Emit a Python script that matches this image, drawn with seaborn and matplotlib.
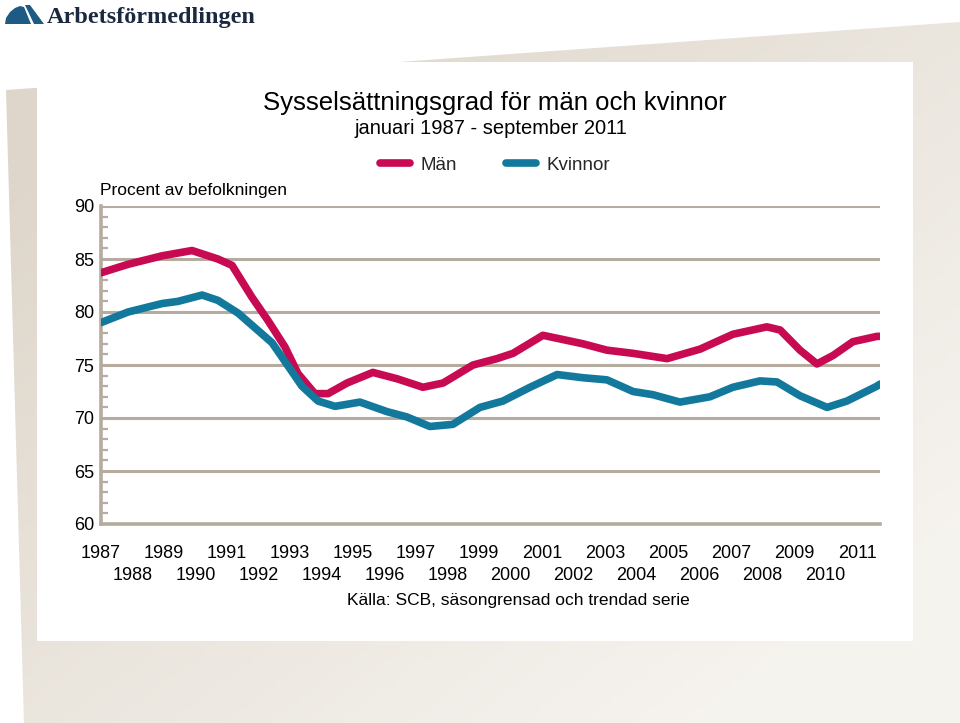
import numpy as np
import pandas as pd
import matplotlib
matplotlib.use("Agg")
import matplotlib.pyplot as plt
import seaborn as sns
from matplotlib.patches import Polygon, Rectangle

# sysselsättningsgrad, procent av befolkningen
tid_man = [1987.00, 1987.86, 1988.94, 1989.89, 1990.71, 1991.16, 1991.79, 1992.30,
           1992.84, 1993.25, 1993.79, 1994.21, 1994.81, 1995.63, 1996.40, 1997.22,
           1997.86, 1998.81, 1999.57, 2000.08, 2001.03, 2001.67, 2002.30, 2003.06,
           2003.89, 2004.97, 2006.02, 2007.06, 2008.14, 2008.56, 2009.19, 2009.73,
           2010.24, 2010.87, 2011.63, 2011.73]
man = [83.7, 84.5, 85.3, 85.8, 85.0, 84.4, 81.4, 79.2,
       76.7, 74.2, 72.3, 72.3, 73.3, 74.3, 73.7, 72.9,
       73.3, 75.0, 75.6, 76.1, 77.8, 77.4, 77.0, 76.4,
       76.1, 75.6, 76.5, 77.9, 78.6, 78.3, 76.4, 75.1,
       75.9, 77.2, 77.7, 77.7]

tid_kvinnor = [1987.00, 1987.86, 1988.94, 1989.44, 1990.21, 1990.71, 1991.35, 1991.89,
               1992.43, 1992.94, 1993.38, 1993.89, 1994.43, 1995.22, 1996.08, 1996.71,
               1997.44, 1998.17, 1999.03, 1999.76, 2000.62, 2001.48, 2002.30, 2003.06,
               2003.89, 2004.52, 2005.38, 2006.33, 2007.06, 2007.92, 2008.46, 2009.19,
               2010.05, 2010.68, 2011.63, 2011.73]
kvinnor = [79.0, 80.0, 80.8, 81.0, 81.6, 81.1, 79.9, 78.5,
           77.1, 74.9, 73.0, 71.6, 71.1, 71.5, 70.6, 70.1,
           69.2, 69.4, 71.0, 71.6, 72.9, 74.1, 73.8, 73.6,
           72.5, 72.2, 71.5, 72.0, 72.9, 73.5, 73.4, 72.1,
           71.0, 71.6, 73.0, 73.2]

udda_ar = list(range(1987, 2012, 2))
jamna_ar = list(range(1988, 2011, 2))
y_ticks = [60, 65, 70, 75, 80, 85, 90]

df = pd.concat([
    pd.DataFrame({"tid": tid_man, "varde": man, "serie": "Män"}),
    pd.DataFrame({"tid": tid_kvinnor, "varde": kvinnor, "serie": "Kvinnor"}),
])

sns.set_theme(style="white")
plt.rcParams["font.family"] = ["Liberation Sans", "DejaVu Sans"]

W, H = 960, 723
fig = plt.figure(figsize=(9.6, 7.23), dpi=100)
fig.patch.set_facecolor("white")

# bakgrund: snett papper och vit panel, i pixelkoordinater
bg = fig.add_axes([0, 0, 1, 1], zorder=0)
bg.set_xlim(0, W)
bg.set_ylim(H, 0)
bg.axis("off")
xx, yy = np.meshgrid(np.linspace(0, W, 200), np.linspace(0, H, 150))
d = np.clip(1.15 - 0.6 * xx / W - 0.6 * yy / H, 0.12, 1.0)
dark = np.array([222, 214, 202]) / 255
light = np.array([249, 247, 244]) / 255
img = light[None, None, :] * (1 - d[..., None]) + dark[None, None, :] * d[..., None]
page = Polygon([(6, 90), (960, 22), (960, 723), (24, 723)], closed=True,
               facecolor="none", edgecolor="none")
bg.add_patch(page)
im = bg.imshow(img, extent=(0, W, H, 0), aspect="auto", zorder=1)
im.set_clip_path(page)
bg.add_patch(Rectangle((37, 62), 876, 579, facecolor="white", edgecolor="none", zorder=2))

# logotyp
logo_col = "#1d5b85"
bg.add_patch(Polygon([(5, 24), (6, 18), (10, 12), (15, 8), (20, 6), (24, 7), (31, 24)],
                     closed=True, facecolor=logo_col, edgecolor="none", zorder=3))
bg.add_patch(Polygon([(25, 5), (30, 5), (44, 24), (34, 24)],
                     closed=True, facecolor=logo_col, edgecolor="none", zorder=3))
fig.text(47 / W, 1 - 17 / H, "Arbetsförmedlingen", family=["Liberation Serif", "DejaVu Serif"],
         fontweight="bold", fontsize=17.5, color="#1b2940", ha="left", va="center")

# diagrammet
grid_col = "#b5ab9e"
ax = fig.add_axes([101 / W, 1 - 524 / H, 779 / W, 318 / H], zorder=2)
ax.patch.set_visible(False)
sns.lineplot(data=df, x="tid", y="varde", hue="serie", hue_order=["Män", "Kvinnor"],
             palette={"Män": "#c80a52", "Kvinnor": "#12799d"}, linewidth=5.5,
             ax=ax, legend=True, zorder=3)
ax.set_xlim(1987, 2011.73)
ax.set_ylim(60, 90)
ax.set_xlabel("")
ax.set_ylabel("")

ax.set_yticks(y_ticks)
ax.set_yticks(range(60, 91), minor=True)
ax.yaxis.grid(True, which="major", color=grid_col, linewidth=2.2, zorder=1)
ax.xaxis.grid(False)
ax.tick_params(axis="y", which="major", length=0, pad=5, labelsize=13, labelcolor="black")
ax.tick_params(axis="y", which="minor", direction="in", left=True, length=5,
               width=1.6, color=grid_col)

# årtal i två rader: udda år överst, jämna år under
ax.set_xticks(udda_ar)
ax.set_xticklabels([str(a) for a in udda_ar])
ax.set_xticks(jamna_ar, minor=True)
ax.set_xticklabels([str(a) for a in jamna_ar], minor=True)
ax.tick_params(axis="x", which="major", length=0, pad=15, labelsize=13, labelcolor="black")
ax.tick_params(axis="x", which="minor", length=0, pad=31, labelsize=13, labelcolor="black")

for side in ["top", "right"]:
    ax.spines[side].set_visible(False)
for side in ["left", "bottom"]:
    ax.spines[side].set_color(grid_col)
    ax.spines[side].set_linewidth(2.6)

sns.move_legend(ax, "center", bbox_to_anchor=(0.506, 1.129), ncol=2, frameon=False,
                title=None, fontsize=13.5, handlelength=1.6, handletextpad=0.55,
                columnspacing=2.6)

# texter
fig.text(495 / W, 1 - 103 / H, "Sysselsättningsgrad för män och kvinnor",
         fontsize=18.5, ha="center", va="center", color="black")
fig.text(491 / W, 1 - 128 / H, "januari 1987 - september 2011",
         fontsize=14.5, ha="center", va="center", color="black")
fig.text(100 / W, 1 - 190 / H, "Procent av befolkningen",
         fontsize=12.5, ha="left", va="center", color="black")
fig.text(518 / W, 1 - 601 / H, "Källa: SCB, säsongrensad och trendad serie",
         fontsize=12.5, ha="center", va="center", color="black")

fig.savefig("out.png", dpi=100)
